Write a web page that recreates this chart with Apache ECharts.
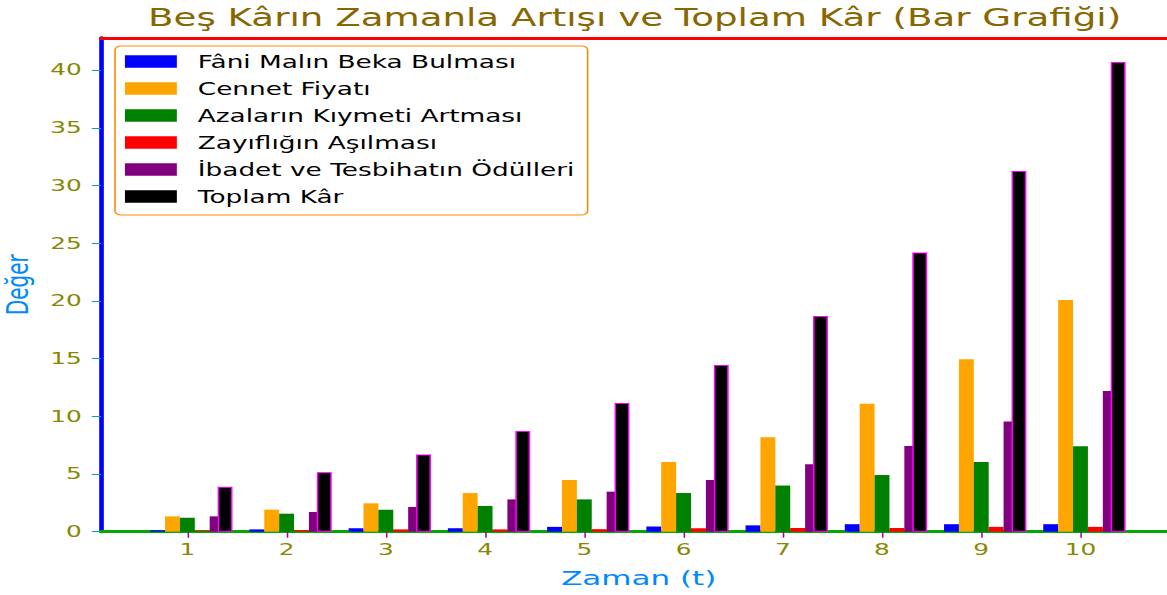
<!DOCTYPE html>
<html>
<head>
<meta charset="utf-8">
<script src="https://cdn.jsdelivr.net/npm/echarts@6/dist/echarts.min.js"></script>
<style>
  html, body { margin: 0; padding: 0; background: #fff; overflow: hidden; }
  #main { width: 764px; height: 595px; transform: scaleX(1.55); transform-origin: 0 0; }
</style>
</head>
<body>
<div id="main"></div>
<script>
    var times = [1, 2, 3, 4, 5, 6, 7, 8, 9, 10];
    var faniMal      = [0.12, 0.2, 0.3, 0.3, 0.42, 0.45, 0.55, 0.65, 0.65, 0.65];
    var cennetFiyati = [1.33, 1.91, 2.46, 3.35, 4.48, 6.04, 8.18, 11.09, 14.95, 20.08];
    var azalar       = [1.21, 1.56, 1.91, 2.23, 2.8, 3.35, 4.0, 4.91, 6.04, 7.4];
    var zayiflik     = [0.08, 0.13, 0.2, 0.2, 0.22, 0.3, 0.32, 0.32, 0.42, 0.42];
    var ibadet       = [1.33, 1.71, 2.14, 2.8, 3.47, 4.48, 5.85, 7.42, 9.55, 12.2];
    var toplamKar    = [3.9, 5.15, 6.7, 8.73, 11.15, 14.45, 18.7, 24.2, 31.25, 40.7];
    var seriesNames = ['Fâni Malın Beka Bulması', 'Cennet Fiyatı', 'Azaların Kıymeti Artması',
                       'Zayıflığın Aşılması', 'İbadet ve Tesbihatın Ödülleri', 'Toplam Kâr'];
    var xTicks = [1, 2, 3, 4, 5, 6, 7, 8, 9, 10];
    var yTicks = [0, 5, 10, 15, 20, 25, 30, 35, 40];
    var colors = ['#0000ff', '#ffa500', '#008000', '#ff0000', '#800080', '#000000'];
    var barOffsets = [-0.3, -0.15, 0, 0.15, 0.3, 0.38];
    var xMin = 0.1304, xMax = 10.967;
    var gridLeft = 65.2, gridWidth = 693.8, gridTop = 37.8, gridHeight = 493.9;
    var barPx = 0.15 * gridWidth / (xMax - xMin);
    var font = 'DejaVu Sans';
    var allValues = [faniMal, cennetFiyati, azalar, zayiflik, ibadet, toplamKar];
    var xAxes = [], series = [];
    allValues.forEach(function (vals, k) {
        var ax = {
            type: 'value', gridIndex: 0, min: xMin, max: xMax, show: k === 0,
            axisLine: { lineStyle: { color: '#00aa00', width: 3 } },
            axisTick: { show: true, length: 6, customValues: xTicks, lineStyle: { color: '#aa00aa', width: 1 } },
            axisLabel: { customValues: xTicks, color: '#888800', fontSize: 16, fontFamily: font, margin: 10 },
            splitLine: { show: false }
        };
        if (k === 0) {
            ax.name = 'Zaman (t)'; ax.nameLocation = 'middle'; ax.nameGap = 36;
            ax.nameTextStyle = { color: '#0088ff', fontSize: 20, fontFamily: font };
        }
        xAxes.push(ax);
        series.push({
            name: seriesNames[k], type: 'bar', xAxisIndex: k, barWidth: barPx,
            itemStyle: k === 5 ? { color: colors[k], borderColor: '#ff00ff', borderWidth: 1 } : { color: colors[k] },
            data: times.map(function (t, i) { return [t + barOffsets[k], vals[i]]; })
        });
    });
    xAxes.push({
        type: 'value', gridIndex: 0, position: 'top', min: xMin, max: xMax,
        axisLine: { show: true, lineStyle: { color: '#ff0000', width: 3 } },
        axisTick: { show: false }, axisLabel: { show: false }, splitLine: { show: false }
    });
    var myChart = echarts.init(document.getElementById('main'), null, { renderer: 'svg' });
    myChart.setOption({
        animation: false,
        backgroundColor: '#fff',
        title: {
            text: 'Beş Kârın Zamanla Artışı ve Toplam Kâr (Bar Grafiği)',
            left: 409.4, textAlign: 'center', top: 6, padding: 0,
            textStyle: { color: '#886600', fontSize: 24, fontWeight: 'normal', fontFamily: font }
        },
        legend: {
            orient: 'vertical', left: 74.2, top: 46, padding: [7, 8.4, 10, 6.4],
            itemWidth: 33.5, itemHeight: 12.7, itemGap: 10, icon: 'rect',
            backgroundColor: 'rgba(255,255,255,0.8)', borderColor: '#ff8800', borderWidth: 1, borderRadius: 4,
            itemStyle: { borderWidth: 0 },
            textStyle: { color: '#000', fontSize: 17, lineHeight: 17, fontFamily: font, padding: [0, 0, 0, 8.5] },
            data: seriesNames
        },
        grid: { left: gridLeft, top: gridTop, width: gridWidth, height: gridHeight, outerBoundsMode: 'none', show: false },
        xAxis: xAxes,
        yAxis: {
            type: 'value', min: 0, max: 42.8,
            axisLine: { show: true, lineStyle: { color: '#0000ff', width: 3 } },
            axisTick: { show: true, length: 6, customValues: yTicks, lineStyle: { color: '#00aaaa', width: 1 } },
            axisLabel: { customValues: yTicks, color: '#888800', fontSize: 16, fontFamily: font, margin: 12.5 },
            splitLine: { show: false },
            name: 'Değer', nameLocation: 'middle', nameGap: 40,
            nameTextStyle: { color: '#0088ff', fontSize: 20, fontFamily: font }
        },
        series: series
    });
</script>
</body>
</html>
